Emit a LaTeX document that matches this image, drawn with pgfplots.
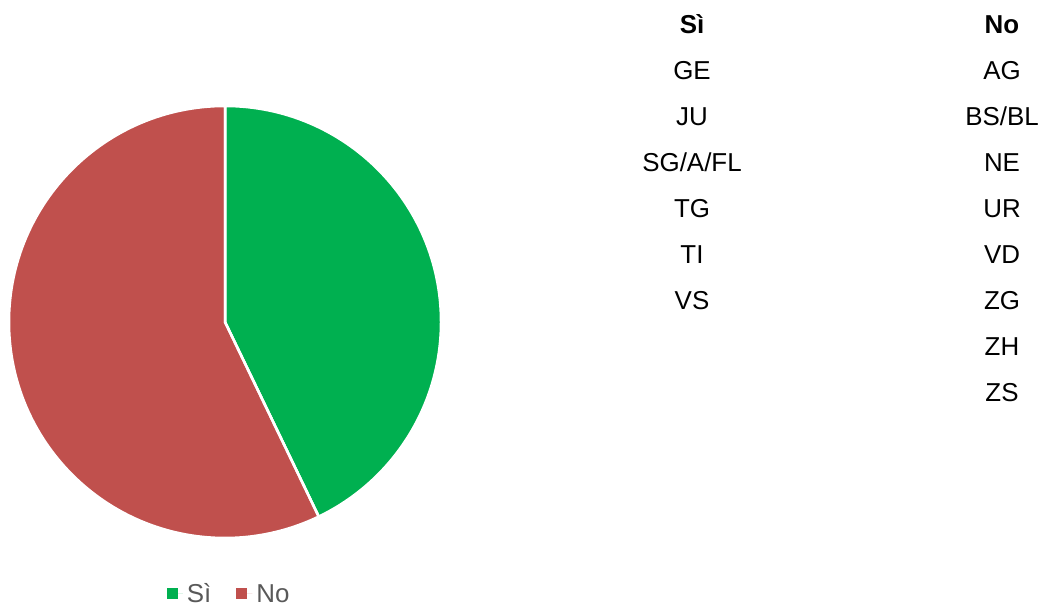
\documentclass[border=0pt]{standalone}
\usepackage{pgfplots}
\pgfplotsset{compat=1.18}
\usepackage{pgfplotstable}
\usepackage{fontspec}
\setmainfont{Liberation Sans}
\definecolor{siG}{HTML}{00B050}
\definecolor{noR}{HTML}{C0504D}
\definecolor{legT}{HTML}{595959}
\pgfplotstableread{
label value
Si 6
No 8
}\piedata
\begin{document}
\begin{tikzpicture}[x=1bp,y=1bp]
\path (0,0) rectangle (1048,606);
\pgfplotstablegetelem{0}{value}\of\piedata \let\vSi\pgfplotsretval
\pgfplotstablegetelem{1}{value}\of\piedata \let\vNo\pgfplotsretval
\pgfmathsetmacro{\aSi}{90-360*\vSi/(\vSi+\vNo)}
\begin{axis}[at={(9bp,68bp)},anchor=south west,scale only axis,
  width=432bp,height=432bp,xmin=-1,xmax=1,ymin=-1,ymax=1,hide axis,clip=false,
  legend style={draw=none,fill=none,at={(0.512,-0.1296)},anchor=center,legend columns=2,
    inner sep=0pt,outer sep=0pt,
    font=\fontsize{26}{30}\selectfont\color{legT},
    nodes={inner sep=4bp},
    /tikz/every even column/.append style={column sep=21bp}},
  legend image code/.code={\path (0bp,0bp) -- (16bp,0bp);\fill[#1] (0bp,-5.5bp) rectangle (11bp,5.5bp);}]
\addlegendimage{fill=siG,draw=none}
\addlegendentry{Sì}
\addlegendimage{fill=noR,draw=none}
\addlegendentry{No}
\fill[siG,draw=white,line width=2.5bp] (axis cs:0,0) -- (axis cs:0,1) arc[start angle=90,end angle=\aSi,radius=1] -- cycle;
\fill[noR,draw=white,line width=2.5bp] (axis cs:0,0) -- (axis cs:0,1) arc[start angle=90,end angle=\aSi+360,radius=1] -- cycle;
\draw[white,line width=2.5bp] (axis cs:0,1) -- (axis cs:0,0) -- ({axis cs:{cos(\aSi)},{sin(\aSi)}});
\end{axis}
\begin{scope}[every node/.style={font=\fontsize{26}{30}\selectfont,anchor=base}]
\node[font=\fontsize{26}{30}\selectfont\bfseries] at (692,606-34) {Sì};
\node[font=\fontsize{26}{30}\selectfont\bfseries] at (1002,606-34) {No};
\foreach \t [count=\i from 1] in {GE,JU,SG/A/FL,TG,TI,VS}
  \node at (692,606-34-46*\i) {\t};
\foreach \t [count=\i from 1] in {AG,BS/BL,NE,UR,VD,ZG,ZH,ZS}
  \node at (1002,606-34-46*\i) {\t};
\end{scope}
\end{tikzpicture}
\end{document}
